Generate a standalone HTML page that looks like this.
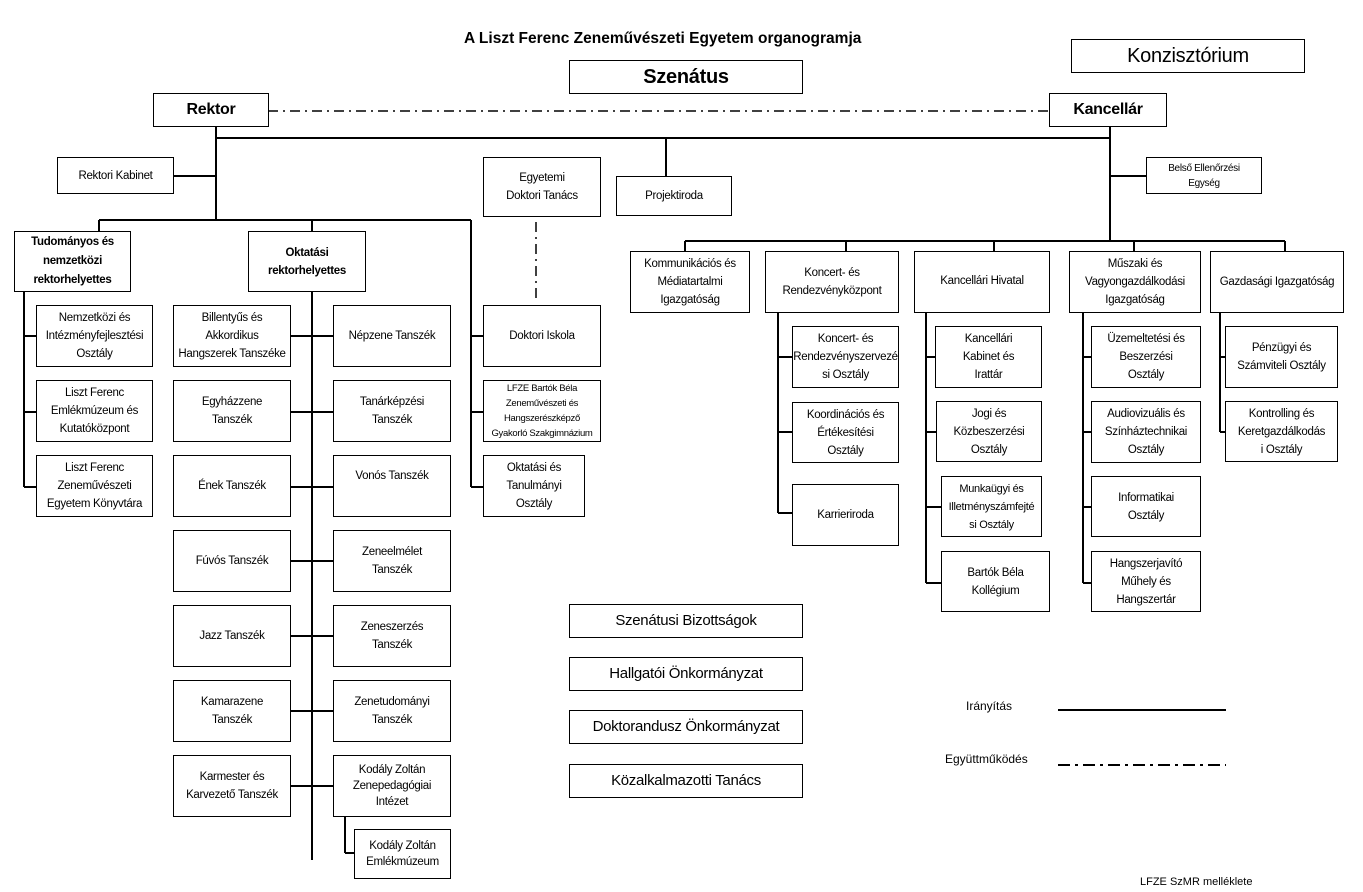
<!DOCTYPE html>
<html><head><meta charset="utf-8"><style>
body{margin:0;background:#fff;}
#c{position:relative;width:1363px;height:892px;overflow:hidden;font-family:"Liberation Sans",Arial,sans-serif;color:#000;}
.b{position:absolute;box-sizing:border-box;border:1px solid #000;background:#fff;display:flex;align-items:center;justify-content:center;text-align:center;font-size:11.5px;line-height:18px;letter-spacing:-0.3px;z-index:2;}
.t{position:absolute;white-space:nowrap;}
svg{position:absolute;left:0;top:0;z-index:1;}
</style></head><body><div id="c">
<svg width="1363" height="892" stroke="#000" stroke-width="2" fill="none">
<line x1="268" y1="111" x2="1049" y2="111" stroke-width="1.5" stroke-dasharray="10,5,2,5"/>
<line x1="216" y1="126" x2="216" y2="220"/>
<line x1="216" y1="138" x2="1110" y2="138"/>
<line x1="666" y1="138" x2="666" y2="176"/>
<line x1="1110" y1="126" x2="1110" y2="241"/>
<line x1="1110" y1="176" x2="1146" y2="176"/>
<line x1="173" y1="176" x2="216" y2="176"/>
<line x1="99" y1="220" x2="471" y2="220"/>
<line x1="99" y1="220" x2="99" y2="231"/>
<line x1="312" y1="220" x2="312" y2="231"/>
<line x1="471" y1="220" x2="471" y2="487"/>
<line x1="471" y1="336" x2="483" y2="336"/><line x1="471" y1="412" x2="483" y2="412"/><line x1="471" y1="487" x2="483" y2="487"/>
<line x1="536" y1="222" x2="536" y2="302" stroke-width="1.5" stroke-dasharray="10,5,2,5"/>
<line x1="24" y1="291" x2="24" y2="487"/>
<line x1="24" y1="336" x2="36" y2="336"/><line x1="24" y1="412" x2="36" y2="412"/><line x1="24" y1="487" x2="36" y2="487"/>
<line x1="312" y1="291" x2="312" y2="860"/>
<line x1="290" y1="336" x2="333" y2="336"/><line x1="290" y1="412" x2="333" y2="412"/><line x1="290" y1="487" x2="333" y2="487"/>
<line x1="290" y1="561" x2="333" y2="561"/><line x1="290" y1="636" x2="333" y2="636"/><line x1="290" y1="711" x2="333" y2="711"/><line x1="290" y1="786" x2="333" y2="786"/>
<line x1="345" y1="816" x2="345" y2="853"/><line x1="345" y1="853" x2="354" y2="853"/>
<line x1="685" y1="241" x2="1285" y2="241"/>
<line x1="685" y1="241" x2="685" y2="251"/><line x1="846" y1="241" x2="846" y2="251"/><line x1="994" y1="241" x2="994" y2="251"/><line x1="1134" y1="241" x2="1134" y2="251"/><line x1="1285" y1="241" x2="1285" y2="251"/>
<line x1="778" y1="313" x2="778" y2="513"/>
<line x1="778" y1="357" x2="792" y2="357"/><line x1="778" y1="432" x2="792" y2="432"/><line x1="778" y1="513" x2="792" y2="513"/>
<line x1="926" y1="313" x2="926" y2="583"/>
<line x1="926" y1="357" x2="935" y2="357"/><line x1="926" y1="432" x2="936" y2="432"/><line x1="926" y1="507" x2="941" y2="507"/><line x1="926" y1="583" x2="941" y2="583"/>
<line x1="1083" y1="313" x2="1083" y2="583"/>
<line x1="1083" y1="357" x2="1091" y2="357"/><line x1="1083" y1="432" x2="1091" y2="432"/><line x1="1083" y1="507" x2="1091" y2="507"/><line x1="1083" y1="583" x2="1091" y2="583"/>
<line x1="1220" y1="313" x2="1220" y2="432"/>
<line x1="1220" y1="357" x2="1225" y2="357"/><line x1="1220" y1="432" x2="1225" y2="432"/>
<line x1="1058" y1="710" x2="1226" y2="710"/>
<line x1="1058" y1="765" x2="1226" y2="765" stroke-dasharray="12,5,3,5"/>
</svg>
<div class="t" style="left:464px;top:30px;font-size:15.5px;font-weight:bold;">A Liszt Ferenc Zeneművészeti Egyetem organogramja</div>
<div class="b" style="left:1071px;top:39px;width:234px;height:34px;font-size:20px;">Konzisztórium</div>
<div class="b" style="left:569px;top:60px;width:234px;height:34px;font-size:20px;font-weight:bold;">Szenátus</div>
<div class="b" style="left:153px;top:93px;width:116px;height:34px;font-size:16px;font-weight:bold;">Rektor</div>
<div class="b" style="left:1049px;top:93px;width:118px;height:34px;font-size:16px;font-weight:bold;">Kancellár</div>
<div class="b" style="left:57px;top:157px;width:117px;height:37px;">Rektori Kabinet</div>
<div class="b" style="left:483px;top:157px;width:118px;height:60px;">Egyetemi<br>Doktori Tanács</div>
<div class="b" style="left:616px;top:176px;width:116px;height:40px;">Projektiroda</div>
<div class="b" style="left:1146px;top:157px;width:116px;height:37px;font-size:10px;line-height:15px;">Belső Ellenőrzési<br>Egység</div>
<div class="b" style="left:14px;top:231px;width:117px;height:61px;font-weight:bold;line-height:19px;">Tudományos és<br>nemzetközi<br>rektorhelyettes</div>
<div class="b" style="left:248px;top:231px;width:118px;height:61px;font-weight:bold;">Oktatási<br>rektorhelyettes</div>
<div class="b" style="left:36px;top:305px;width:117px;height:62px;">Nemzetközi és<br>Intézményfejlesztési<br>Osztály</div>
<div class="b" style="left:36px;top:380px;width:117px;height:62px;">Liszt Ferenc<br>Emlékmúzeum és<br>Kutatóközpont</div>
<div class="b" style="left:36px;top:455px;width:117px;height:62px;">Liszt Ferenc<br>Zeneművészeti<br>Egyetem Könyvtára</div>
<div class="b" style="left:173px;top:305px;width:118px;height:62px;">Billentyűs és<br>Akkordikus<br>Hangszerek Tanszéke</div>
<div class="b" style="left:173px;top:380px;width:118px;height:62px;">Egyházzene<br>Tanszék</div>
<div class="b" style="left:173px;top:455px;width:118px;height:62px;">Ének Tanszék</div>
<div class="b" style="left:173px;top:530px;width:118px;height:62px;">Fúvós Tanszék</div>
<div class="b" style="left:173px;top:605px;width:118px;height:62px;">Jazz Tanszék</div>
<div class="b" style="left:173px;top:680px;width:118px;height:62px;">Kamarazene<br>Tanszék</div>
<div class="b" style="left:173px;top:755px;width:118px;height:62px;">Karmester és<br>Karvezető Tanszék</div>
<div class="b" style="left:333px;top:305px;width:118px;height:62px;">Népzene Tanszék</div>
<div class="b" style="left:333px;top:380px;width:118px;height:62px;">Tanárképzési<br>Tanszék</div>
<div class="b" style="left:333px;top:455px;width:118px;height:62px;align-items:flex-start;padding-top:11px;">Vonós Tanszék</div>
<div class="b" style="left:333px;top:530px;width:118px;height:62px;">Zeneelmélet<br>Tanszék</div>
<div class="b" style="left:333px;top:605px;width:118px;height:62px;">Zeneszerzés<br>Tanszék</div>
<div class="b" style="left:333px;top:680px;width:118px;height:62px;">Zenetudományi<br>Tanszék</div>
<div class="b" style="left:333px;top:755px;width:118px;height:62px;line-height:16px;">Kodály Zoltán<br>Zenepedagógiai<br>Intézet</div>
<div class="b" style="left:354px;top:829px;width:97px;height:50px;line-height:16px;">Kodály Zoltán<br>Emlékmúzeum</div>
<div class="b" style="left:483px;top:305px;width:118px;height:62px;">Doktori Iskola</div>
<div class="b" style="left:483px;top:380px;width:118px;height:62px;font-size:9.5px;line-height:15px;">LFZE Bartók Béla<br>Zeneművészeti és<br>Hangszerészképző<br>Gyakorló Szakgimnázium</div>
<div class="b" style="left:483px;top:455px;width:102px;height:62px;">Oktatási és<br>Tanulmányi<br>Osztály</div>
<div class="b" style="left:630px;top:251px;width:120px;height:62px;">Kommunikációs és<br>Médiatartalmi<br>Igazgatóság</div>
<div class="b" style="left:765px;top:251px;width:134px;height:62px;align-items:flex-start;padding-top:12px;">Koncert- és<br>Rendezvényközpont</div>
<div class="b" style="left:914px;top:251px;width:136px;height:62px;align-items:flex-start;padding-top:20px;">Kancellári Hivatal</div>
<div class="b" style="left:1069px;top:251px;width:132px;height:62px;">Műszaki és<br>Vagyongazdálkodási<br>Igazgatóság</div>
<div class="b" style="left:1210px;top:251px;width:134px;height:62px;align-items:flex-start;padding-top:21px;">Gazdasági Igazgatóság</div>
<div class="b" style="left:792px;top:326px;width:107px;height:62px;">Koncert- és<br>Rendezvényszervezé<br>si Osztály</div>
<div class="b" style="left:792px;top:402px;width:107px;height:61px;">Koordinációs és<br>Értékesítési<br>Osztály</div>
<div class="b" style="left:792px;top:484px;width:107px;height:62px;">Karrieriroda</div>
<div class="b" style="left:935px;top:326px;width:107px;height:62px;">Kancellári<br>Kabinet és<br>Irattár</div>
<div class="b" style="left:936px;top:401px;width:106px;height:61px;">Jogi és<br>Közbeszerzési<br>Osztály</div>
<div class="b" style="left:941px;top:476px;width:101px;height:61px;font-size:11px;">Munkaügyi és<br>Illetményszámfejté<br>si Osztály</div>
<div class="b" style="left:941px;top:551px;width:109px;height:61px;">Bartók Béla<br>Kollégium</div>
<div class="b" style="left:1091px;top:326px;width:110px;height:62px;">Üzemeltetési és<br>Beszerzési<br>Osztály</div>
<div class="b" style="left:1091px;top:401px;width:110px;height:62px;">Audiovizuális és<br>Színháztechnikai<br>Osztály</div>
<div class="b" style="left:1091px;top:476px;width:110px;height:61px;">Informatikai<br>Osztály</div>
<div class="b" style="left:1091px;top:551px;width:110px;height:61px;">Hangszerjavító<br>Műhely és<br>Hangszertár</div>
<div class="b" style="left:1225px;top:326px;width:113px;height:62px;">Pénzügyi és<br>Számviteli Osztály</div>
<div class="b" style="left:1225px;top:401px;width:113px;height:61px;">Kontrolling és<br>Keretgazdálkodás<br>i Osztály</div>
<div class="b" style="left:569px;top:604px;width:234px;height:34px;font-size:15px;">Szenátusi Bizottságok</div>
<div class="b" style="left:569px;top:657px;width:234px;height:34px;font-size:15px;">Hallgatói Önkormányzat</div>
<div class="b" style="left:569px;top:710px;width:234px;height:34px;font-size:15px;">Doktorandusz Önkormányzat</div>
<div class="b" style="left:569px;top:764px;width:234px;height:34px;font-size:15px;">Közalkalmazotti Tanács</div>
<div class="t" style="left:966px;top:699px;font-size:12px;">Irányítás</div>
<div class="t" style="left:945px;top:752px;font-size:12px;">Együttműködés</div>
<div class="t" style="left:1140px;top:876px;font-size:11px;">LFZE SzMR melléklete</div>
</div></body></html>
